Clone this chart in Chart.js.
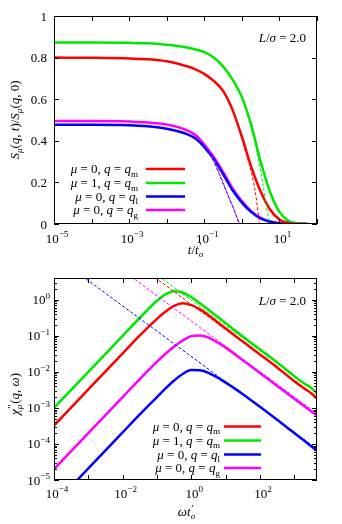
<!DOCTYPE html>
<html>
<head>
<meta charset="utf-8">
<script src="https://cdn.jsdelivr.net/npm/chart.js@4.4.1/dist/chart.umd.min.js"></script>
<style>
  html, body { margin: 0; padding: 0; background: #fff; }
  canvas { display: block; }
</style>
</head>
<body>
<canvas id="topChart" width="342" height="262"></canvas>
<canvas id="botChart" width="342" height="262"></canvas>
<script>
// ---------- top panel: S_mu(q,t)/S_mu(q,0) vs t/t'_sigma ----------
const tGrid = [1e-5, 1e-4, 1e-3, 3.16e-3, 5.62e-3, 1e-2, 1.78e-2, 3.16e-2, 5.62e-2, 0.1, 0.178,
               0.316, 0.562, 1, 1.78, 3.16, 5.62, 10, 17.8, 31.6, 56.2];
const sRed     = [0.800, 0.799, 0.796, 0.792, 0.788, 0.782, 0.773, 0.760, 0.745, 0.722, 0.688,
                  0.640, 0.550, 0.420, 0.275, 0.156, 0.070, 0.022, 0.005, 0.001, 0];
const sGreen   = [0.873, 0.873, 0.871, 0.869, 0.866, 0.862, 0.857, 0.850, 0.840, 0.826, 0.800,
                  0.758, 0.695, 0.610, 0.475, 0.300, 0.155, 0.058, 0.014, 0.003, 0];
const sBlue    = [0.477, 0.477, 0.475, 0.470, 0.465, 0.458, 0.448, 0.435, 0.413, 0.370, 0.313,
                  0.240, 0.163, 0.103, 0.057, 0.027, 0.011, 0.003, 0.001, 0, 0];
const sMagenta = [0.495, 0.495, 0.493, 0.488, 0.484, 0.478, 0.468, 0.453, 0.430, 0.382, 0.322,
                  0.250, 0.172, 0.110, 0.062, 0.030, 0.012, 0.004, 0.001, 0, 0];

// thin dashed short-time curves
const tRedShort = [1e-5, 1e-3, 1e-2, 3.16e-2, 0.1, 0.178, 0.316, 0.562, 1, 1.33, 1.78, 2.37, 2.95];
const sRedShort = [0.800, 0.796, 0.782, 0.760, 0.722, 0.688, 0.635, 0.545, 0.410, 0.330, 0.250, 0.135, 0];
const tGreenShort = [1e-5, 1e-3, 1e-2, 0.1, 0.316, 0.562, 1, 1.58, 2.51, 3.55, 4.47, 5.50];
const sGreenShort = [0.873, 0.871, 0.862, 0.826, 0.758, 0.695, 0.605, 0.495, 0.350, 0.200, 0.090, 0];
const tBlueShort = [1e-5, 1e-3, 1e-2, 3.16e-2, 0.1, 0.158, 0.251, 0.398, 0.631, 0.851];
const sBlueShort = [0.477, 0.475, 0.458, 0.435, 0.370, 0.320, 0.238, 0.150, 0.063, 0];
const tMagentaShort = [1e-5, 1e-3, 1e-2, 3.16e-2, 0.1, 0.158, 0.251, 0.398, 0.631, 0.871];
const sMagentaShort = [0.495, 0.493, 0.478, 0.453, 0.382, 0.330, 0.245, 0.155, 0.067, 0];

// ---------- bottom panel: chi''_mu(q,w) vs w t'_sigma ----------
const wGrid = [1e-4, 1e-3, 1e-2, 3.16e-2, 0.1, 0.178, 0.316, 0.562, 1, 1.78, 3.16,
               10, 31.6, 100, 316, 1000, 2000, 3160, 4570];
const cRed     = [3.24e-4, 3.24e-3, 3.24e-2, 0.102, 0.295, 0.468, 0.676, 0.794, 0.708, 0.537, 0.372,
                  0.158, 0.0692, 0.0302, 0.0132, 5.50e-3, 3.39e-3, 2.51e-3, 1.82e-3];
const cGreen   = [1.0e-3, 1.0e-2, 0.1, 0.316, 0.933, 1.41, 1.72, 1.58, 1.17, 0.794, 0.525,
                  0.224, 0.0955, 0.0417, 0.0182, 7.59e-3, 4.68e-3, 3.55e-3, 2.51e-3];
const cBlue    = [2.09e-6, 2.09e-5, 2.09e-4, 6.61e-4, 2.0e-3, 3.47e-3, 5.75e-3, 8.70e-3, 0.0112, 0.0110, 9.30e-3,
                  5.01e-3, 2.40e-3, 1.07e-3, 4.68e-4, 2.0e-4, 1.20e-4, 8.51e-5, 6.46e-5];
const cMagenta = [2.0e-5, 2.0e-4, 2.0e-3, 6.31e-3, 0.0191, 0.0316, 0.0501, 0.0741, 0.0977, 0.102, 0.0891,
                  0.0468, 0.0209, 9.33e-3, 4.07e-3, 1.78e-3, 1.10e-3, 7.94e-4, 6.17e-4];

// thin dashed high-frequency asymptotes (start, end)
const wRedAsym = [5.0e-2, 4570];     const cRedAsym = [6.1, 2.0e-3];
const wGreenAsym = [6.3e-2, 4570];   const cGreenAsym = [6.7, 2.63e-3];
const wBlueAsym = [5.0e-4, 4570];    const cBlueAsym = [5.5, 7.2e-5];
const wMagentaAsym = [1.0e-2, 4570]; const cMagentaAsym = [6.5, 6.9e-4];

// ---------- ticks ----------
const topXTicks = [1e-5, 1e-4, 1e-3, 1e-2, 1e-1, 1, 1e1, 1e2];
const topXLabels = [[1e-5, '−5'], [1e-3, '−3'], [1e-1, '−1'], [1e1, '1']];
const topYTicks = [0, 0.2, 0.4, 0.6, 0.8, 1];
const topYLabels = ['0', '0.2', '0.4', '0.6', '0.8', '1'];
const botXTicks = [1e-4, 1e-3, 1e-2, 1e-1, 1, 1e1, 1e2, 1e3];
const botXLabels = [[1e-4, '−4'], [1e-2, '−2'], [1, '0'], [1e2, '2']];
const botYTicks = [1e-5, 1e-4, 1e-3, 1e-2, 1e-1, 1];
const botYLabels = ['−5', '−4', '−3', '−2', '−1', '0'];

const RED = '#ff0000', GREEN = '#00e800', BLUE = '#0000ff', MAGENTA = '#ff00ff';
const FONT = "'Liberation Serif', 'DejaVu Serif', serif";

// ---------- rich text helpers ----------
const n = t => ({ t });
const it = t => ({ t, i: true });
const sup = t => ({ t, d: 1 });
const sub = (t, i) => ({ t, d: -1, i });
const stack = (up, dn) => ({ st: true, up, dn });

function fontOf(size, italic) { return (italic ? 'italic ' : '') + size + 'px ' + FONT; }

function segWidth(ctx, s, size) {
  if (s.st) {
    ctx.font = fontOf(size * 0.8, false);
    const a = ctx.measureText(s.up).width;
    ctx.font = fontOf(size * 0.7, true);
    const b = ctx.measureText(s.dn).width;
    return Math.max(a, b) + 1;
  }
  ctx.font = fontOf(s.d ? size * 0.7 : size, s.i);
  return ctx.measureText(s.t).width;
}

function drawRich(ctx, segs, x, y, align, size) {
  ctx.save();
  ctx.textBaseline = 'alphabetic';
  ctx.textAlign = 'left';
  ctx.fillStyle = '#000';
  const ws = segs.map(s => segWidth(ctx, s, size));
  const total = ws.reduce((a, b) => a + b, 0);
  let cx = align === 'right' ? x - total : align === 'center' ? x - total / 2 : x;
  const base = y + size * 0.35;
  segs.forEach((s, k) => {
    if (s.st) {
      ctx.font = fontOf(size * 0.8, false);
      ctx.fillText(s.up, cx + 0.5, base - size * 0.3);
      ctx.font = fontOf(size * 0.7, true);
      ctx.fillText(s.dn, cx, base + size * 0.28);
    } else {
      ctx.font = fontOf(s.d ? size * 0.7 : size, s.i);
      const dy = s.d === 1 ? -size * 0.42 : s.d === -1 ? size * 0.28 : 0;
      ctx.fillText(s.t, cx, base + dy);
    }
    cx += ws[k];
  });
  ctx.restore();
}

function legendRows() {
  return [
    [it('μ'), n(' = 0, '), it('q'), n(' = '), it('q'), sub('m')],
    [it('μ'), n(' = 1, '), it('q'), n(' = '), it('q'), sub('m')],
    [it('μ'), n(' = 0, '), it('q'), n(' = '), it('q'), sub('l')],
    [it('μ'), n(' = 0, '), it('q'), n(' = '), it('q'), sub('g')]
  ];
}

// ---------- frame / ticks / labels plugin ----------
function boxPlugin(spec) {
  return {
    id: 'box',
    afterDatasetsDraw(chart) {
      const ctx = chart.ctx, a = chart.chartArea;
      const xs = chart.scales.x, ys = chart.scales.y;
      ctx.save();
      ctx.strokeStyle = '#000';
      ctx.lineWidth = 1;
      ctx.beginPath();
      spec.xTicks.forEach(v => {
        const p = Math.round(xs.getPixelForValue(v)) + 0.5;
        ctx.moveTo(p, a.bottom); ctx.lineTo(p, a.bottom - 5);
        ctx.moveTo(p, a.top); ctx.lineTo(p, a.top + 5);
      });
      spec.yTicks.forEach(v => {
        const p = Math.round(ys.getPixelForValue(v)) + 0.5;
        ctx.moveTo(a.left, p); ctx.lineTo(a.left + 5, p);
        ctx.moveTo(a.right, p); ctx.lineTo(a.right - 5, p);
      });
      (spec.yMinor || []).forEach(v => {
        const p = Math.round(ys.getPixelForValue(v)) + 0.5;
        ctx.moveTo(a.left, p); ctx.lineTo(a.left + 3, p);
        ctx.moveTo(a.right, p); ctx.lineTo(a.right - 3, p);
      });
      ctx.stroke();
      ctx.strokeRect(a.left + 0.5, a.top + 0.5, a.right - a.left - 1, a.bottom - a.top - 1);
      ctx.restore();

      // tick labels
      spec.xLabels.forEach(([v, e]) => {
        drawRich(ctx, [n('10'), sup(e)], xs.getPixelForValue(v) + 3, spec.xLabelY, 'center', 13);
      });
      spec.yLabels.forEach((lab, k) => {
        const py = ys.getPixelForValue(spec.yTicks[k]);
        const segs = spec.yLog ? [n('10'), sup(lab)] : [n(lab)];
        drawRich(ctx, segs, spec.yLabelX, py, 'right', 13);
      });

      // axis titles
      drawRich(ctx, spec.xTitle, spec.xTitlePos[0], spec.xTitlePos[1], 'center', 13);
      ctx.save();
      ctx.translate(spec.yTitlePos[0], spec.yTitlePos[1]);
      ctx.rotate(-Math.PI / 2);
      drawRich(ctx, spec.yTitle, 0, 0, 'center', 13);
      ctx.restore();

      // L/sigma label
      drawRich(ctx, [it('L'), n('/'), it('σ'), n(' = 2.0')], 306, spec.noteY, 'right', 13);

      // legend
      const rows = legendRows();
      const cols = [RED, GREEN, BLUE, MAGENTA];
      rows.forEach((segs, k) => {
        const y = spec.legendY[k];
        drawRich(ctx, segs, spec.legendTextX, y, 'right', 13);
        ctx.save();
        ctx.strokeStyle = cols[k];
        ctx.lineWidth = 2.5;
        ctx.beginPath();
        ctx.moveTo(spec.legendLine[0], y + 0.5);
        ctx.lineTo(spec.legendLine[1], y + 0.5);
        ctx.stroke();
        ctx.restore();
      });
    }
  };
}

function pts(xs, ys) { return xs.map((x, k) => ({ x, y: ys[k] })); }
function solid(xs, ys, color) {
  return { data: pts(xs, ys), borderColor: color, borderWidth: 2.5, order: 1,
           cubicInterpolationMode: 'monotone' };
}
function dashed(xs, ys, color) {
  return { data: pts(xs, ys), borderColor: color, borderWidth: 1, borderDash: [3, 2], order: 0,
           cubicInterpolationMode: 'monotone' };
}

function baseOptions(padding, xMin, xMax, yType, yMin, yMax) {
  return {
    responsive: false,
    animation: false,
    layout: { padding },
    elements: { point: { radius: 0 }, line: { fill: false } },
    plugins: { legend: { display: false }, tooltip: { enabled: false } },
    scales: {
      x: { type: 'logarithmic', min: xMin, max: xMax, display: false },
      y: { type: yType, min: yMin, max: yMax, display: false }
    }
  };
}

// top chart
new Chart(document.getElementById('topChart').getContext('2d'), {
  type: 'line',
  data: {
    datasets: [
      dashed(tRedShort, sRedShort, RED),
      dashed(tGreenShort, sGreenShort, GREEN),
      dashed(tBlueShort, sBlueShort, BLUE),
      dashed(tMagentaShort, sMagentaShort, MAGENTA),
      solid(tGrid, sRed, RED),
      solid(tGrid, sGreen, GREEN),
      solid(tGrid, sBlue, BLUE),
      solid(tGrid, sMagenta, MAGENTA)
    ]
  },
  options: baseOptions({ left: 54, right: 25, top: 16, bottom: 38 }, 1e-5, 1e2, 'linear', 0, 1),
  plugins: [boxPlugin({
    xTicks: topXTicks, xLabels: topXLabels, xLabelY: 238,
    yTicks: topYTicks, yLabels: topYLabels, yLabelX: 47,
    xTitle: [it('t'), n('/'), it('t'), stack('′', 'σ')], xTitlePos: [196, 249],
    yTitle: [it('S'), sub('μ', true), n('('), it('q'), n(', '), it('t'), n(')/'),
             it('S'), sub('μ', true), n('('), it('q'), n(', 0)')],
    yTitlePos: [14, 120],
    noteY: 37,
    legendTextX: 138, legendLine: [146, 185], legendY: [168.5, 182.5, 196, 209.5]
  })]
});

// minor ticks for the log y axis of the bottom panel
const botYMinor = [];
botYTicks.forEach(d => { for (let m = 2; m <= 9; m++) if (d * m <= 4) botYMinor.push(d * m); });

// bottom chart
new Chart(document.getElementById('botChart').getContext('2d'), {
  type: 'line',
  data: {
    datasets: [
      dashed(wRedAsym, cRedAsym, RED),
      dashed(wGreenAsym, cGreenAsym, GREEN),
      dashed(wBlueAsym, cBlueAsym, BLUE),
      dashed(wMagentaAsym, cMagentaAsym, MAGENTA),
      solid(wGrid, cRed, RED),
      solid(wGrid, cGreen, GREEN),
      solid(wGrid, cBlue, BLUE),
      solid(wGrid, cMagenta, MAGENTA)
    ]
  },
  options: baseOptions({ left: 54, right: 25, top: 16, bottom: 44 }, 1e-4, 4570, 'logarithmic', 1e-5, 4),
  plugins: [boxPlugin({
    xTicks: botXTicks, xLabels: botXLabels, xLabelY: 231,
    yTicks: botYTicks, yLabels: botYLabels, yLabelX: 50, yLog: true, yMinor: botYMinor,
    xTitle: [it('ωt'), stack('′', 'σ')], xTitlePos: [187, 249],
    yTitle: [it('χ'), stack('′′', 'μ'), n('('), it('q'), n(', '), it('ω'), n(')')],
    yTitlePos: [14, 132],
    noteY: 38,
    legendTextX: 220, legendLine: [224, 261], legendY: [164, 178, 192, 205.5]
  })]
});
</script>
</body>
</html>
